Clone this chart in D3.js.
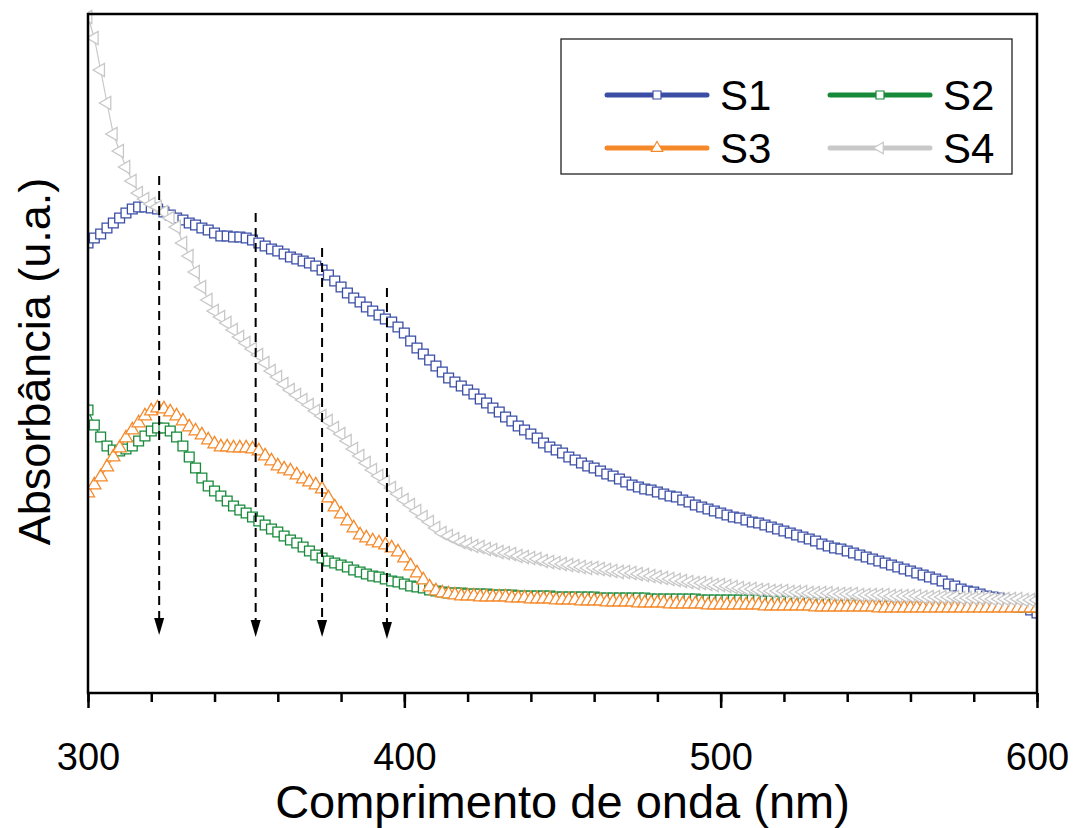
<!DOCTYPE html>
<html><head><meta charset="utf-8">
<script src="https://cdn.jsdelivr.net/npm/d3@7"></script>
<style>body{margin:0;background:#fff} svg{display:block} text{font-family:Arial,"Liberation Sans",sans-serif}</style>
</head><body><svg id="c" width="1077" height="828"></svg>
<script>
// Wavelength grid (nm), one sample every 2 nm
const wavelengths = d3.range(300, 601, 2);

// Absorbance (a.u.)
const s1 = [.450,.455,.459,.465,.470,.475,.480,.484,.486,.486,
.485,.484,.481,.478,.475,.473,.470,.468,.465,.463,
.460,.457,.457,.456,.456,.455,.453,.450,.447,.444,
.442,.439,.436,.434,.432,.430,.427,.423,.418,.412,
.406,.400,.395,.391,.386,.382,.378,.374,.371,.366,
.360,.352,.345,.339,.333,.327,.321,.315,.311,.307,
.303,.299,.294,.290,.285,.281,.276,.272,.267,.263,
.259,.255,.250,.246,.243,.240,.236,.233,.230,.227,
.225,.222,.219,.217,.214,.211,.208,.206,.204,.203,
.201,.199,.197,.196,.193,.191,.188,.186,.184,.182,
.180,.178,.176,.175,.173,.171,.170,.168,.166,.164,
.162,.160,.158,.156,.154,.152,.149,.147,.145,.144,
.142,.140,.138,.136,.134,.132,.130,.128,.126,.124,
.122,.120,.118,.116,.114,.112,.109,.107,.104,.102,
.101,.099,.097,.096,.095,.093,.091,.089,.086,.083,
.080];
const s2 = [.283,.268,.256,.247,.243,.242,.244,.247,.252,.257,
.262,.265,.265,.262,.256,.247,.236,.225,.215,.207,
.202,.197,.192,.187,.183,.180,.176,.172,.168,.164,
.161,.157,.153,.150,.146,.142,.138,.135,.132,.130,
.128,.126,.123,.121,.119,.117,.116,.114,.112,.111,
.109,.107,.106,.105,.103,.102,.101,.100,.100,.100,
.099,.099,.099,.099,.098,.098,.098,.098,.097,.097,
.097,.097,.097,.097,.096,.096,.096,.096,.096,.096,
.096,.095,.095,.095,.095,.095,.095,.095,.095,.094,
.094,.094,.094,.094,.094,.094,.094,.093,.093,.093,
.093,.093,.093,.093,.093,.093,.093,.092,.092,.092,
.092,.092,.092,.092,.091,.091,.091,.091,.091,.091,
.091,.090,.090,.090,.090,.090,.090,.090,.089,.089,
.089,.089,.089,.089,.088,.088,.088,.088,.088,.088,
.087,.087,.087,.087,.087,.087,.087,.086,.086,.086,
.086];
const s3 = [.200,.208,.216,.226,.236,.245,.255,.263,.270,.277,
.282,.285,.284,.281,.277,.272,.266,.262,.258,.253,
.249,.246,.246,.245,.245,.245,.244,.242,.237,.232,
.227,.224,.222,.218,.214,.211,.208,.204,.195,.186,
.179,.172,.165,.158,.155,.152,.150,.148,.145,.141,
.135,.127,.120,.113,.106,.102,.100,.099,.098,.097,
.097,.097,.096,.096,.096,.096,.096,.095,.095,.095,
.094,.094,.094,.094,.093,.093,.093,.093,.092,.092,
.092,.092,.091,.091,.091,.091,.091,.090,.090,.090,
.090,.090,.089,.089,.089,.089,.089,.089,.088,.088,
.088,.088,.088,.088,.088,.088,.088,.087,.087,.087,
.087,.087,.087,.087,.087,.086,.086,.086,.086,.086,
.086,.086,.086,.086,.086,.085,.085,.085,.085,.085,
.085,.085,.085,.085,.085,.085,.085,.085,.085,.085,
.085,.085,.085,.085,.085,.085,.085,.085,.085,.085,
.085];
const s4 = [.676,.655,.623,.590,.559,.542,.526,.512,.500,.494,
.489,.486,.481,.475,.466,.450,.437,.421,.406,.393,
.382,.376,.370,.363,.356,.350,.344,.338,.330,.322,
.316,.309,.303,.298,.293,.288,.282,.277,.272,.265,
.259,.252,.244,.237,.230,.223,.217,.211,.205,.199,
.193,.188,.182,.176,.171,.165,.160,.157,.154,.151,
.149,.147,.146,.144,.143,.141,.140,.139,.137,.136,
.135,.134,.132,.131,.130,.129,.128,.127,.126,.125,
.125,.124,.123,.122,.121,.121,.120,.119,.118,.117,
.116,.115,.114,.113,.112,.111,.110,.110,.109,.108,
.108,.107,.106,.105,.104,.104,.103,.103,.102,.102,
.102,.101,.101,.101,.100,.100,.100,.100,.099,.099,
.099,.099,.098,.098,.098,.098,.098,.097,.097,.097,
.097,.097,.096,.096,.096,.096,.096,.096,.095,.095,
.095,.095,.095,.094,.094,.094,.094,.094,.093,.093,
.093];

const seriesNames = ["S1", "S2", "S3", "S4"];
const seriesValues = [s1, s2, s3, s4];
const seriesColors = ["#3b4ea6", "#178a3a", "#f5892a", "#c8c8c8"];
const seriesSymbols = ["square", "square", "triangleUp", "triangleLeft"];
const xTickLabels = [300, 400, 500, 600];
const xMinorTicks = d3.range(300, 601, 20);

// Dashed arrows: wavelength, start and end absorbance
const arrowWl = [322.5, 353, 374, 394.5];
const arrowTop = [0.517, 0.480, 0.445, 0.405];
const arrowTip = [0.058, 0.056, 0.056, 0.054];

const svg = d3.select("#c");
const L = 88, R = 1037, T = 14, B = 693;
const x = d3.scaleLinear().domain([300, 600]).range([L, R]);
const y = d3.scaleLinear().domain([0, 0.679]).range([B, T]);

svg.append("defs").append("clipPath").attr("id", "clip")
  .append("rect").attr("x", L).attr("y", T - 10).attr("width", R - L).attr("height", B - T + 10);

function symbolPath(kind, size) {
  if (kind === "square") return d3.symbol(d3.symbolSquare, size)();
  return d3.symbol(d3.symbolTriangle, size)();
}
function symRot(kind) { return kind === "triangleLeft" ? -90 : 0; }

const plot = svg.append("g").attr("clip-path", "url(#clip)");
const lineGen = d3.line().x(d => x(d[0])).y(d => y(d[1]));

seriesValues.forEach((vals, i) => {
  const pts = wavelengths.map((w, k) => [w, vals[k]]);
  const g = plot.append("g");
  g.append("path").attr("d", lineGen(pts)).attr("fill", "none")
    .attr("stroke", seriesColors[i]).attr("stroke-width", 1.2);
  const kind = seriesSymbols[i];
  const size = kind === "square" ? 96 : 75;
  const p = symbolPath(kind, size);
  g.selectAll("path.m").data(pts).enter().append("path").attr("class", "m")
    .attr("d", p)
    .attr("transform", d => `translate(${x(d[0])},${y(d[1])}) rotate(${symRot(kind)})`)
    .attr("fill", "#fff").attr("stroke", seriesColors[i]).attr("stroke-width", 1.3);
});

// arrows
arrowWl.forEach((w, i) => {
  const xx = x(w), y0 = y(arrowTop[i]), y1 = y(arrowTip[i]);
  svg.append("line").attr("x1", xx).attr("x2", xx).attr("y1", y0).attr("y2", y1 - 14)
    .attr("stroke", "#000").attr("stroke-width", 2).attr("stroke-dasharray", "9,6");
  svg.append("path").attr("d", `M${xx - 5},${y1 - 17} L${xx + 5},${y1 - 17} L${xx},${y1} Z`).attr("fill", "#000");
});

// axes
const minor = d3.axisBottom(x).tickValues(xMinorTicks).tickSize(9).tickFormat("");
svg.append("g").attr("transform", `translate(0,${B})`).call(minor)
  .call(g => g.select(".domain").remove())
  .call(g => g.selectAll("line").attr("stroke", "#000").attr("stroke-width", 2.5));
const major = d3.axisBottom(x).tickValues(xTickLabels).tickSize(15).tickPadding(35).tickFormat(d3.format("d"));
svg.append("g").attr("transform", `translate(0,${B})`).call(major)
  .call(g => g.select(".domain").remove())
  .call(g => g.selectAll("line").attr("stroke", "#000").attr("stroke-width", 2.5))
  .call(g => g.selectAll("text").attr("font-size", 38).attr("fill", "#000").attr("font-family", "Arial, 'Liberation Sans', sans-serif"));

svg.append("rect").attr("x", L).attr("y", T).attr("width", R - L).attr("height", B - T)
  .attr("fill", "none").attr("stroke", "#000").attr("stroke-width", 2.5);

svg.append("text").attr("x", (L + R) / 2).attr("y", 818).attr("text-anchor", "middle")
  .attr("font-size", 47).text("Comprimento de onda (nm)");
svg.append("text").attr("transform", `translate(50,${(T + B) / 2 + 8}) rotate(-90)`)
  .attr("text-anchor", "middle").attr("font-size", 45).text("Absorbância (u.a.)");

// legend
const lg = svg.append("g");
lg.append("rect").attr("x", 561).attr("y", 39).attr("width", 451).attr("height", 135)
  .attr("fill", "#fff").attr("stroke", "#222").attr("stroke-width", 1.3);
const legPos = [[607, 95], [830, 95], [607, 148], [830, 148]];
seriesNames.forEach((n, i) => {
  const [lx, ly] = legPos[i];
  lg.append("line").attr("x1", lx).attr("x2", lx + 100).attr("y1", ly).attr("y2", ly)
    .attr("stroke", seriesColors[i]).attr("stroke-width", 5).attr("stroke-linecap", "round");
  const kind = seriesSymbols[i];
  lg.append("path").attr("d", symbolPath(kind, kind === "square" ? 64 : 56))
    .attr("transform", `translate(${lx + 50},${ly}) rotate(${symRot(kind)})`)
    .attr("fill", "#fff").attr("stroke", seriesColors[i]).attr("stroke-width", 1.2);
  lg.append("text").attr("x", lx + 113).attr("y", ly + 15).attr("font-size", 42).text(n);
});
</script></body></html>
